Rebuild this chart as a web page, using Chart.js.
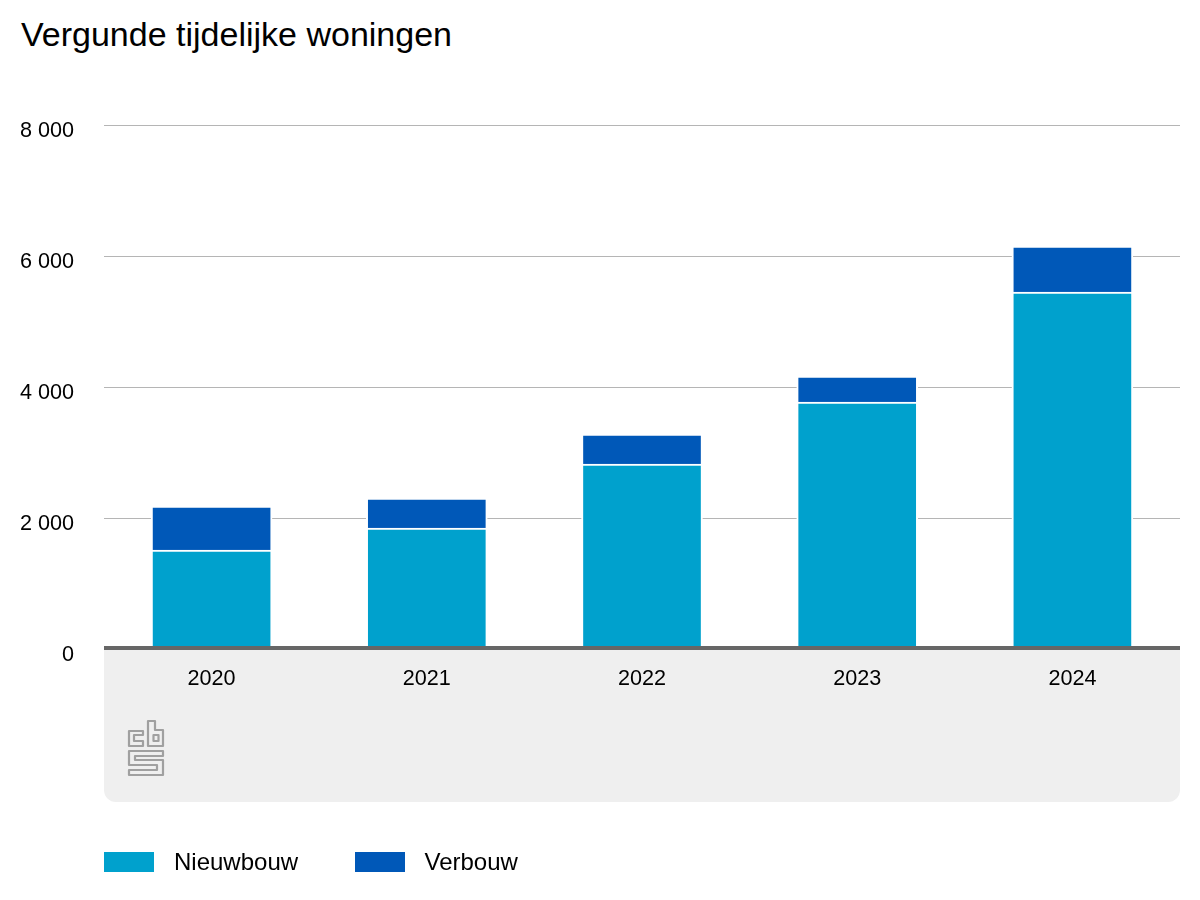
<!DOCTYPE html>
<html lang="nl">
<head>
<meta charset="utf-8">
<title>Vergunde tijdelijke woningen</title>
<script src="https://cdn.jsdelivr.net/npm/chart.js@4"></script>
<style>
  html, body { margin: 0; padding: 0; background: #fff; }
  body { width: 1200px; height: 900px; position: relative; overflow: hidden; font-family: "Liberation Sans", Arial, sans-serif; color: #000; }
  h1 { position: absolute; left: 21px; top: 15px; margin: 0; font-size: 34px; line-height: 39px; font-weight: 400; }
  canvas { position: absolute; left: 0; top: 0; }
  #logo { position: absolute; left: 0; top: 0; pointer-events: none; }
  .legend-item { position: absolute; top: 852px; height: 20px; }
  .legend-box { position: absolute; left: 0; top: 0; width: 50px; height: 20px; }
  .legend-text { position: absolute; left: 70px; top: -4px; font-size: 24px; line-height: 28px; white-space: nowrap; }
</style>
</head>
<body>
<h1>Vergunde tijdelijke woningen</h1>
<canvas id="chart" width="1200" height="900"></canvas>
<svg id="logo" width="1200" height="900" fill="none" stroke="#a0a0a0" stroke-width="2.2" stroke-linejoin="round">
  <path d="M143 731H129V746H143V741H134V735H143Z"/>
  <path d="M148 721H155V730H163V746H148Z"/>
  <path d="M153.500 735H158.500V741H153.500Z"/>
  <path d="M129 751H163V756H135V760H163V775H129V770H157V765H129Z"/>
</svg>
<div class="legend-item" id="legend-0" style="left:104px"></div>
<div class="legend-item" id="legend-1" style="left:354.500px"></div>

<script>
const years = ['2020', '2021', '2022', '2023', '2024'];
const nieuwbouw = [1519, 1855, 2832, 3779, 5458];
const verbouw = [672, 458, 458, 397, 702];
const seriesNames = ['Nieuwbouw', 'Verbouw'];
const seriesColors = ['#00a1cd', '#0058b8'];
const yTicks = [0, 2000, 4000, 6000, 8000];

// Grey panel under the axis and the heavy zero line
const panelPlugin = {
  id: 'panel',
  beforeDraw(chart) {
    const { ctx, chartArea: a } = chart;
    ctx.save();
    ctx.fillStyle = '#efefef';
    ctx.beginPath();
    ctx.roundRect(a.left, a.bottom, a.right - a.left, 802 - a.bottom, [0, 0, 12, 12]);
    ctx.fill();
    ctx.restore();
  },
  afterDatasetsDraw(chart) {
    const { ctx, chartArea: a } = chart;
    ctx.save();
    ctx.fillStyle = '#666666';
    ctx.fillRect(a.left, a.bottom - 3.5, a.right - a.left, 4);
    ctx.restore();
  },
};

new Chart(document.getElementById('chart'), {
  type: 'bar',
  data: {
    labels: years,
    datasets: [nieuwbouw, verbouw].map((values, i) => ({
      label: seriesNames[i],
      data: values,
      backgroundColor: seriesColors[i],
      borderColor: '#ffffff',
      borderWidth: 2,
      barThickness: 121,
    })),
  },
  options: {
    responsive: false,
    animation: false,
    devicePixelRatio: 1,
    layout: { padding: { top: 125.5, right: 20 } },
    font: { family: '"Liberation Sans", Arial, sans-serif' },
    plugins: {
      legend: { display: false },
      tooltip: { enabled: false },
    },
    scales: {
      x: {
        stacked: true,
        afterFit: (scale) => { scale.height = 250.5; },
        border: { display: false },
        grid: { display: false },
        ticks: {
          color: '#000',
          padding: 9,
          maxRotation: 0,
          font: { family: '"Liberation Sans", Arial, sans-serif', size: 21.6 },
        },
      },
      y: {
        stacked: true,
        min: 0,
        max: 8000,
        afterFit: (scale) => { scale.width = 104; },
        afterBuildTicks: (scale) => { scale.ticks = yTicks.map((value) => ({ value })); },
        border: { display: false },
        grid: { color: '#b5b5b5', lineWidth: 1, drawTicks: false, tickLength: 0 },
        ticks: {
          color: '#000',
          padding: 30,
          labelOffset: 6,
          font: { family: '"Liberation Sans", Arial, sans-serif', size: 21.6 },
          callback: (value) => String(value).replace(/\B(?=(\d{3})+$)/g, ' '),
        },
      },
    },
  },
  plugins: [panelPlugin],
});

seriesNames.forEach((name, i) => {
  const item = document.getElementById('legend-' + i);
  item.innerHTML = `<span class="legend-box" style="background:${seriesColors[i]}"></span><span class="legend-text">${name}</span>`;
});
</script>
</body>
</html>
